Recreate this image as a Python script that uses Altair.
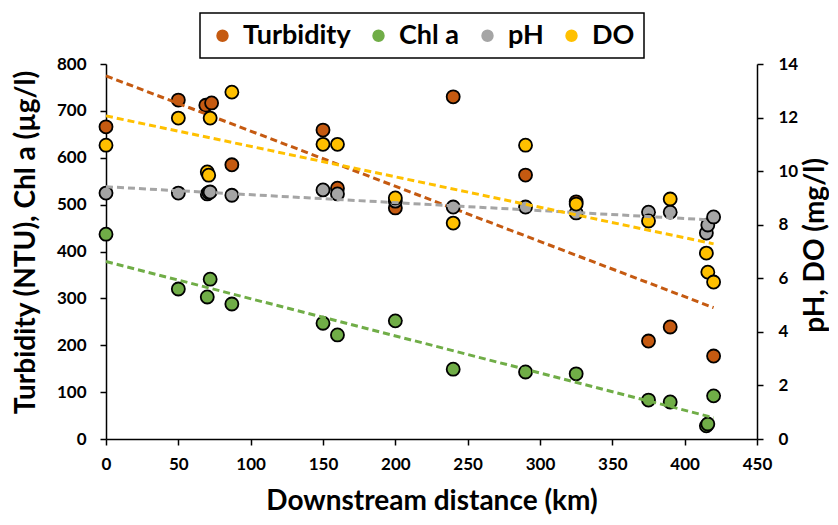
import altair as alt
import pandas as pd

series_names = ["Turbidity", "Chl a", "pH", "DO"]
series_colors = ["#C55A11", "#70AD47", "#A5A5A5", "#FFC000"]

turb_x = [0, 50, 69, 73, 87, 150, 160, 200, 240, 290, 325, 375, 390, 420]
turb_y = [666, 723, 712, 717, 585, 659, 535, 493, 730, 563, 506, 209, 239, 177]

chl_x = [0, 50, 70, 72, 87, 150, 160, 200, 240, 290, 325, 375, 390, 415, 416, 420]
chl_y = [437, 320, 303, 341, 288, 247, 222, 252, 149, 143, 139, 83, 79, 28, 32, 92]

ph_x = [0, 50, 70, 71, 72, 87, 150, 160, 200, 240, 290, 325, 375, 390, 415, 416, 420]
ph_y = [9.18, 9.18, 9.15, 9.2, 9.22, 9.1, 9.3, 9.15, 8.88, 8.66, 8.66, 8.44, 8.47, 8.47, 7.69, 7.99, 8.29]

do_x = [0, 50, 70, 71, 72, 87, 150, 160, 200, 240, 290, 325, 375, 390, 415, 416, 420]
do_y = [10.97, 11.98, 9.97, 9.85, 11.98, 12.95, 11.0, 11.0, 9.0, 8.06, 10.97, 8.77, 8.14, 8.96, 6.94, 6.23, 5.86]

x_ticks = list(range(0, 451, 50))
left_ticks = list(range(0, 801, 100))
right_ticks = list(range(0, 15, 2))


def frame(name, xs, ys):
    return pd.DataFrame({"series": name, "x": xs, "v": ys})


df_left = pd.concat([frame("Turbidity", turb_x, turb_y), frame("Chl a", chl_x, chl_y)])
df_right = pd.concat([frame("pH", ph_x, ph_y), frame("DO", do_x, do_y)])

FONT = "Lato"

x_enc = alt.X(
    "x:Q",
    scale=alt.Scale(domain=[0, 450], nice=False),
    axis=alt.Axis(values=x_ticks, title="Downstream distance (km)", labelPadding=11,
                  labelFlush=False, titleY=62, titleBaseline="middle"),
)

y_left = alt.Y(
    "v:Q",
    scale=alt.Scale(domain=[0, 800], nice=False),
    axis=alt.Axis(orient="left", values=left_ticks, title="Turbidity (NTU), Chl a (µg/l)",
                  labelPadding=14, titleX=-80, titleY=178, titleAngle=270,
                  titleBaseline="middle", titleAlign="center"),
)
y_right = alt.Y(
    "v:Q",
    scale=alt.Scale(domain=[0, 14], nice=False),
    axis=alt.Axis(orient="right", values=right_ticks, title="pH, DO (mg/l)",
                  labelPadding=15, titleX=58, titleY=181, titleAngle=270,
                  titleBaseline="middle", titleAlign="center"),
)

color_scale = alt.Scale(domain=series_names, range=series_colors)
color_enc = alt.Color(
    "series:N",
    scale=color_scale,
    legend=alt.Legend(
        title=None,
        orient="none",
        direction="horizontal",
        legendX=94,
        legendY=-51,
        symbolType="circle",
        symbolSize=120,
        symbolStrokeColor="black",
        symbolStrokeWidth=1.5,
        labelFontSize=27,
        labelFont=FONT,
        labelFontWeight="bold",
        labelColor="black",
        labelOffset=7,
        columnPadding=14,
        padding=9,
        strokeColor="black",
    ),
)
stroke_enc = alt.Stroke("series:N", scale=color_scale, legend=None)


def pts(df, y):
    return alt.Chart(df).mark_circle(size=170, opacity=1, stroke="black", strokeWidth=1.8).encode(
        x=x_enc, y=y, color=color_enc
    )


def trend(df, y):
    return (
        alt.Chart(df)
        .transform_regression("x", "v", groupby=["series"])
        .mark_line(strokeDash=[7, 4], strokeWidth=3)
        .encode(x=x_enc, y=y, stroke=stroke_enc)
    )


left = alt.layer(pts(df_left, y_left), trend(df_left, y_left))
right = alt.layer(pts(df_right, y_right), trend(df_right, y_right))

chart = (
    alt.layer(left, right)
    .resolve_scale(y="independent")
    .properties(
        width=651,
        height=375,
        autosize=alt.AutoSizeParams(type="none"),
        padding={"left": 98, "top": 56, "right": 72, "bottom": 78},
    )
    .configure_view(strokeWidth=0)
    .configure_axis(
        grid=False,
        domainColor="black",
        domainWidth=1.5,
        tickColor="black",
        tickWidth=1.5,
        tickSize=6,
        labelFont=FONT,
        labelFontSize=17,
        labelFontWeight="bold",
        labelColor="black",
        titleFont=FONT,
        titleFontSize=28,
        titleFontWeight="bold",
        titleColor="black",
    )
    .configure_legend(strokeWidth=1.5)
)

chart.save("out.html", embed_options={"renderer": "svg", "actions": False})
